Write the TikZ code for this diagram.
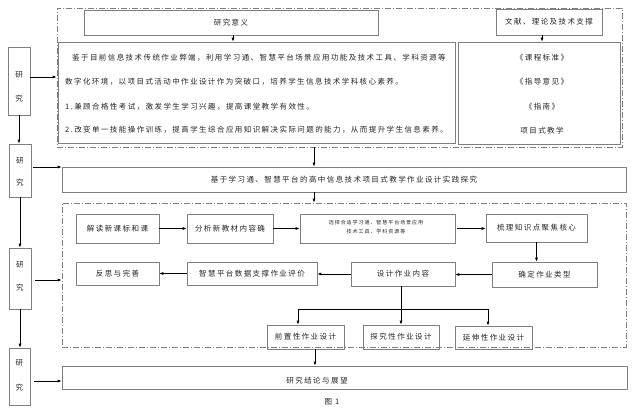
\documentclass[tikz,border=0pt]{standalone}
\usepackage{fontspec}
\newfontfamily\cjk{Noto Sans CJK SC}[LetterSpace=19]
\usetikzlibrary{arrows.meta}
\definecolor{boxgray}{HTML}{7F7F7F}
\definecolor{txt}{HTML}{262626}
\begin{document}
\begin{tikzpicture}[x=1pt,y=-1pt,
  box/.style={draw=boxgray, line width=0.6pt, inner sep=0pt, text=txt, font={\cjk\fontsize{7.5}{9}\selectfont}},
  dbox/.style={draw=boxgray, line width=0.6pt, dash pattern=on 6pt off 2pt on 1pt off 2pt, inner sep=0pt},
  lbl/.style={inner sep=0pt, text=txt, font={\cjk\fontsize{7.5}{9}\selectfont}},
  tiny/.style={inner sep=0pt, text=txt, font={\cjk\fontsize{5}{6}\selectfont}},
  arr/.style={-{Latex[length=4pt,width=3pt]}, line width=0.7pt, black},
  ln/.style={line width=0.7pt, black}]
\useasboundingbox[fill=white] (0,0) rectangle (636,416);

% dashed frames
\node[dbox, minimum width=565pt, minimum height=139pt] (d1) at (339.5,77.5) {};
\node[dbox, minimum width=564pt, minimum height=144pt] (d2) at (344,275) {};

% top part
\node[box, minimum width=294pt, minimum height=25pt] (yjyy) at (231,22.5) {研究意义};
\node[box, minimum width=106pt, minimum height=26pt] (wx) at (549,22) {文献、理论及技术支撑};
\node[box, minimum width=397pt, minimum height=101pt] (big) at (256.5,92.5) {};
\node[box, minimum width=162pt, minimum height=102pt] (rt) at (539,93) {};

\node[lbl, anchor=west] (b1) at (72,58) {鉴于目前信息技术传统作业弊端，利用学习通、智慧平台场景应用功能及技术工具、学科资源等};
\node[lbl, anchor=west] (b2) at (65,82) {数字化环境，以项目式活动中作业设计作为突破口，培养学生信息技术学科核心素养。};
\node[lbl, anchor=west] (b3) at (65,107) {1.兼顾合格性考试，激发学生学习兴趣，提高课堂教学有效性。};
\node[lbl, anchor=west] (b4) at (65,130) {2.改变单一技能操作训练，提高学生综合应用知识解决实际问题的能力，从而提升学生信息素养。};

\node[lbl] (r1) at (542,58) {《课程标准》};
\node[lbl] (r2) at (542,82) {《指导意见》};
\node[lbl] (r3) at (542,107) {《指南》};
\node[lbl] (r4) at (542,131) {项目式教学};

\draw[arr] ([xshift=2pt]yjyy.south) -- ([xshift=2pt]yjyy.south |- big.north);
\draw[arr] ([xshift=-7pt]wx.south) -- ([xshift=-7pt]wx.south |- rt.north);

% middle
\node[box, minimum width=564pt, minimum height=25pt] (mid) at (344,179.5) {\raisebox{-2pt}{基于学习通、智慧平台的高中信息技术项目式教学作业设计实践探究}};
\draw[arr] ([xshift=-30pt]mid.north |- d1.south) -- ([xshift=-30pt]mid.north);
\draw[arr] ([xshift=-30pt]mid.south) -- ([xshift=-30pt]mid.south |- d2.north);

% second frame contents
\node[box, minimum width=83pt, minimum height=29pt] (r1a) at (117.5,228.5) {解读新课标和课};
\node[box, minimum width=86pt, minimum height=29pt] (r1b) at (230,228.5) {分析新教材内容确};
\node[box, minimum width=155pt, minimum height=29pt] (r1c) at (377.5,228.5) {};
\node[tiny] (s1) at (376,223) {选择合适学习通、智慧平台场景应用};
\node[tiny] (s2) at (376,232) {技术工具、学科资源等};
\node[box, minimum width=101pt, minimum height=28pt] (r1d) at (536.5,228) {梳理知识点聚焦核心};
\node[box, minimum width=105pt, minimum height=25pt] (r2d) at (544.5,274.5) {确定作业类型};
\node[box, minimum width=104pt, minimum height=24pt] (r2c) at (403,274) {设计作业内容};
\node[box, minimum width=130pt, minimum height=23pt] (r2b) at (252,273.5) {智慧平台数据支撑作业评价};
\node[box, minimum width=83pt, minimum height=23pt] (r2a) at (117.5,273.5) {反思与完善};
\node[box, minimum width=77pt, minimum height=24pt] (r3a) at (305.5,337) {前置性作业设计};
\node[box, minimum width=76pt, minimum height=24pt] (r3b) at (401,337) {探究性作业设计};
\node[box, minimum width=77pt, minimum height=23pt] (r3c) at (493.5,337.5) {延伸性作业设计};

\draw[arr] (r1a.east) -- (r1b.west);
\draw[arr] (r1b.east) -- (r1c.west);
\draw[arr] ([xshift=2pt]r1c.east) -- (r1d.west |- r1c.east);
\draw[arr] (r1d.south) -- (r1d.south |- r2d.north);
\draw[arr] (r2d.west) -- (r2d.west -| r2c.east) ;
\draw[arr] (r2c.west) -- (r2c.west -| r2b.east);
\draw[arr] (r2b.west) -- (r2b.west -| r2a.east);
\draw[arr] ([xshift=-2pt]r2c.south) -- ([xshift=-2pt]r2c.south |- r3b.north);
\coordinate (br) at (0,309);
\draw[ln] ([xshift=-7.5pt]r3a.north |- br) -- ([xshift=-5.5pt]r3c.north |- br);
\draw[arr] ([xshift=-7.5pt]r3a.north |- br) -- ([xshift=-7.5pt]r3a.north);
\draw[arr] ([xshift=-5.5pt]r3c.north |- br) -- ([xshift=-5.5pt]r3c.north);

% conclusion
\node[box, minimum width=565pt, minimum height=23pt] (concl) at (344.5,377.5) {};
\node[lbl] (ct) at (317,381) {研究结论与展望};
\draw[arr] ([xshift=9.5pt]r3a.south) -- ([xshift=9.5pt]r3a.south |- concl.north);
\node[lbl] (fig) at (332,402) {图 1};

% left column
\node[box, minimum width=22pt, minimum height=68pt] (L1) at (19,81) {};
\node[box, minimum width=22pt, minimum height=53pt] (L2) at (20,170.5) {};
\node[box, minimum width=22pt, minimum height=61pt] (L3) at (20,278.5) {};
\node[box, minimum width=21pt, minimum height=57pt] (L4) at (19.5,376.5) {};
\node[lbl] (L1a) at (19,75) {研};
\node[lbl] (L1b) at (19,99) {究};
\node[lbl] (L2a) at (20,161) {研};
\node[lbl] (L2b) at (20,183) {究};
\node[lbl] (L3a) at (20,265) {研};
\node[lbl] (L3b) at (20,288) {究};
\node[lbl] (L4a) at (19.5,363) {研};
\node[lbl] (L4b) at (19.5,388) {究};

\draw[arr] (L1.south) -- (L1.south |- L2.north);
\draw[arr] (L2.south) -- (L2.south |- L3.north);
\draw[arr] (L3.south) -- (L3.south |- L4.north);
\draw[arr] ([yshift=4pt]L1.east) -- ([yshift=4pt]L1.east -| d1.west);
\draw[arr] ([yshift=3.5pt, xshift=2pt]L2.east) -- ([yshift=3.5pt]L2.east -| mid.west);
\draw[arr] ([yshift=-1.5pt, xshift=4pt]L3.east) -- ([yshift=-1.5pt]L3.east -| d2.west);
\draw[arr] ([yshift=-4.5pt, xshift=4pt]L4.east) -- ([yshift=-4.5pt]L4.east -| concl.west);
\end{tikzpicture}
\end{document}
